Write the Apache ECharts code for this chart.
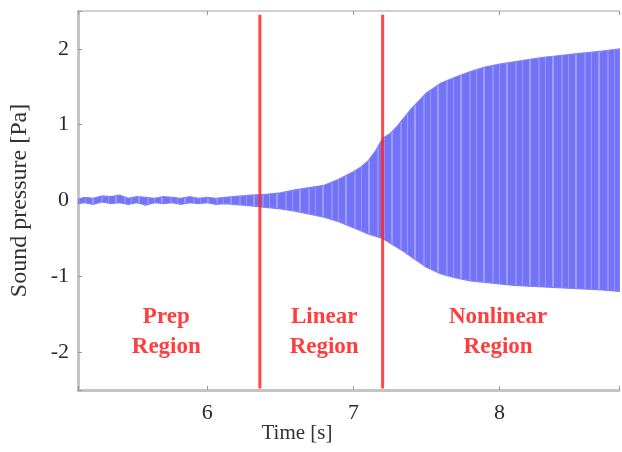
<!DOCTYPE html>
<html>
<head>
<meta charset="utf-8">
<script src="https://cdn.jsdelivr.net/npm/echarts@6/dist/echarts.min.js"></script>
<style>html,body{margin:0;padding:0;background:#fff}#c{width:622px;height:452px}</style>
</head>
<body>
<div id="c"></div>
<script>
// Envelope of the sound pressure signal
var time  = [5.12,5.16,5.22,5.28,5.34,5.4,5.46,5.52,5.58,5.64,5.7,5.76,5.82,5.88,5.94,6.0,6.06,6.12,6.18,6.24,6.3,6.4,6.5,6.6,6.7,6.8,6.9,7.0,7.05,7.1,7.15,7.2,7.25,7.3,7.35,7.4,7.5,7.6,7.7,7.8,7.9,8.0,8.1,8.2,8.3,8.4,8.5,8.6,8.7,8.82];
var upper = [0.02,0.04,0.03,0.06,0.05,0.07,0.03,0.05,0.04,0.03,0.05,0.04,0.03,0.05,0.03,0.04,0.03,0.04,0.05,0.06,0.07,0.08,0.1,0.14,0.17,0.2,0.28,0.38,0.44,0.52,0.65,0.82,0.88,0.98,1.1,1.22,1.42,1.55,1.63,1.7,1.76,1.8,1.83,1.86,1.89,1.91,1.93,1.95,1.97,2.0];
var lower = [-0.04,-0.03,-0.05,-0.02,-0.04,-0.03,-0.05,-0.03,-0.06,-0.03,-0.04,-0.03,-0.05,-0.03,-0.04,-0.03,-0.05,-0.04,-0.05,-0.06,-0.07,-0.09,-0.11,-0.14,-0.18,-0.22,-0.28,-0.36,-0.4,-0.44,-0.47,-0.5,-0.56,-0.62,-0.68,-0.75,-0.88,-0.97,-1.02,-1.06,-1.08,-1.1,-1.12,-1.13,-1.14,-1.15,-1.16,-1.17,-1.18,-1.2];
// Region boundaries (s)
var boundaries = [6.36, 7.2];
// Region labels
var regionNames = ['Prep\nRegion', 'Linear\nRegion', 'Nonlinear\nRegion'];
var regionX = [5.72, 6.8, 7.99];
var regionY = [-1.73, -1.73, -1.73];
var xTicks = [6, 7, 8];
var yTicks = [-2, -1, 0, 1, 2];

var serif = '"Liberation Serif","DejaVu Serif",serif';

// stripe texture for the dense oscillation band
var pc = document.createElement('canvas');
pc.width = 23; pc.height = 4;
var g = pc.getContext('2d');
g.fillStyle = '#7373f8'; g.fillRect(0,0,23,4);
g.fillStyle = '#9c9cfc'; g.fillRect(0,0,2,4);
g.fillStyle = '#8e8efb'; g.fillRect(9,0,2,4);
g.fillStyle = '#9898fc'; g.fillRect(16,0,1,4);

var series = [{
  type:'custom', silent:true, z:2,
  data:[[time[0], 0]],
  renderItem:function(params, api){
    var pts = [];
    for (var i=0;i<time.length;i++) pts.push(api.coord([time[i], upper[i]]));
    for (var j=time.length-1;j>=0;j--) pts.push(api.coord([time[j], lower[j]]));
    return {type:'polygon', shape:{points:pts},
      style:{fill:{image:pc, repeat:'repeat'}, stroke:'#8080f8', lineWidth:1.2}};
  }
}];
boundaries.forEach(function(b){
  series.push({type:'line', data:[[b,-2.48],[b,2.45]], symbol:'none',
    lineStyle:{color:'rgba(255,40,40,0.85)', width:3}, z:5, silent:true});
});
series.push({type:'scatter', symbolSize:0, z:6, silent:true,
  data: regionX.map(function(x,i){return {value:[x, regionY[i]], name:regionNames[i]};}),
  label:{show:true, position:'inside', formatter:function(p){return p.name;},
    color:'#ff0d0d', fontFamily:serif, fontWeight:'bold', fontSize:23, lineHeight:30, align:'center'}});

var intFmt = function(list){return function(v){return list.indexOf(Math.round(v*1000)/1000)>=0 ? String(v) : '';};};

var chart = echarts.init(document.getElementById('c'), null, {renderer:'canvas'});
chart.setOption({
  animation:false,
  backgroundColor:'#fff',
  grid:{left:77, top:11, right:1, bottom:62},
  xAxis:[{
    type:'value', min:5.116, max:8.817, splitNumber:3,
    axisLine:{onZero:false, lineStyle:{color:'#c4c4c4', width:3}},
    axisTick:{inside:true, length:4, lineStyle:{color:'#999'}},
    axisLabel:{formatter:intFmt(xTicks), color:'#2a2a2a', fontFamily:serif, fontSize:22, margin:12},
    splitLine:{show:false}
  },{
    type:'value', position:'top', min:5.116, max:8.817, splitNumber:3,
    axisLine:{show:true, onZero:false, lineStyle:{color:'#d0d0d0', width:2}},
    axisTick:{show:true, inside:true, length:4, lineStyle:{color:'#999'}},
    axisLabel:{show:false}, splitLine:{show:false}
  }],
  yAxis:{
    type:'value', min:-2.5, max:2.5, splitNumber:5,
    name:'Sound pressure [Pa]', nameLocation:'middle', nameGap:46,
    nameTextStyle:{color:'#333', fontFamily:serif, fontSize:24},
    axisLine:{show:true, onZero:false, lineStyle:{color:'#c4c4c4', width:3}},
    axisTick:{inside:true, length:4, lineStyle:{color:'#999'}},
    axisLabel:{formatter:intFmt(yTicks), color:'#2a2a2a', fontFamily:serif, fontSize:22, margin:9},
    splitLine:{show:false}
  },
  graphic:[{type:'text', x:297, y:433, style:{text:'Time [s]', fill:'#333', font:'21px '+serif, textAlign:'center', textVerticalAlign:'middle'}}],
  series:series
});
</script>
</body>
</html>
